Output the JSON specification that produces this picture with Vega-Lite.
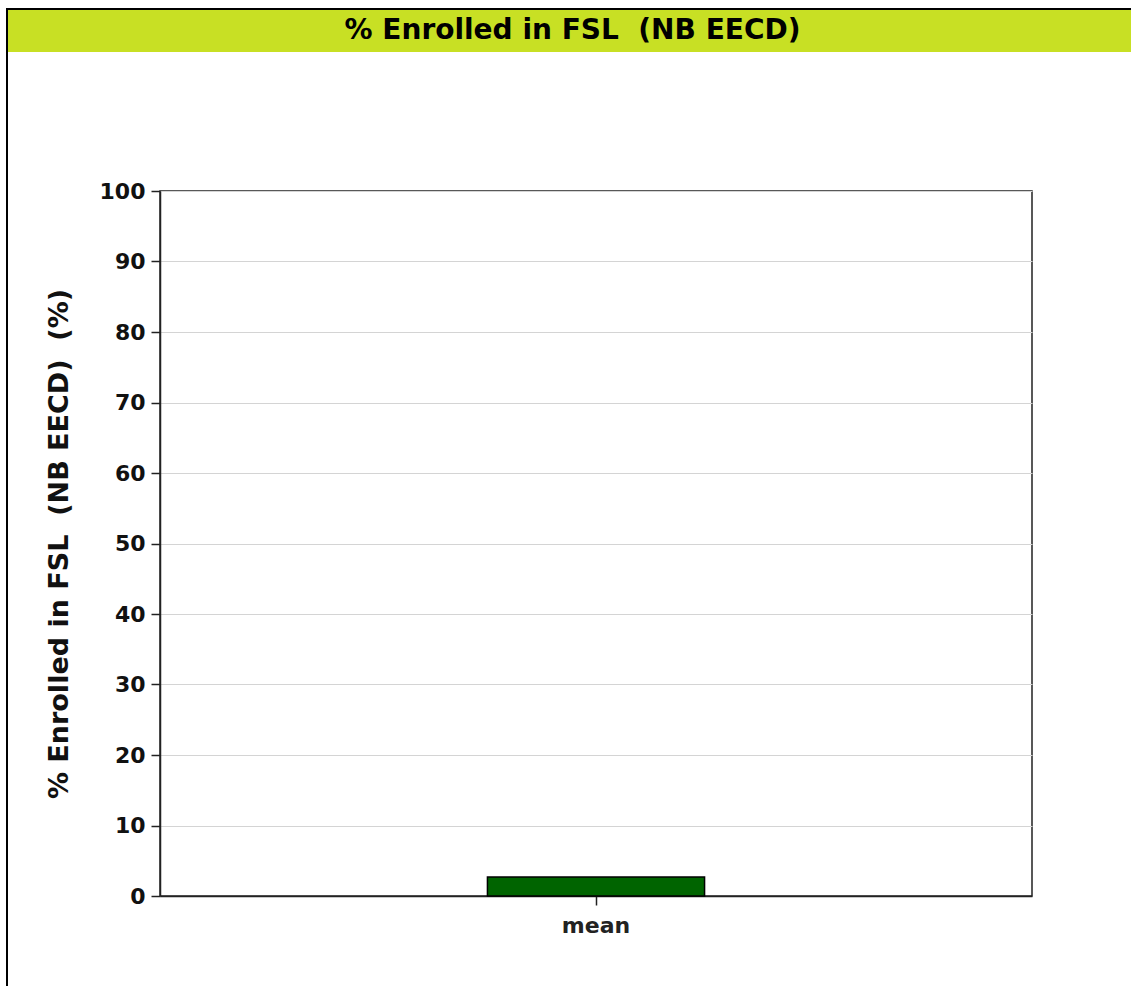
{
  "$schema": "https://vega.github.io/schema/vega-lite/v6.json",
  "padding": {"left": 6, "top": 8, "right": 0, "bottom": 0},
  "background": "white",
  "config": {
    "view": {"stroke": null},
    "font": "DejaVu Sans"
  },
  "spacing": 0,
  "bounds": "flush",
  "vconcat": [
    {
      "width": 1125,
      "height": 2,
      "data": {"values": [{"part": "frame top"}]},
      "view": {"fill": "#000000", "stroke": null},
      "mark": {"type": "rect", "fill": "#000000"},
      "encoding": {}
    },
    {
      "spacing": 0,
      "bounds": "flush",
      "hconcat": [
        {
          "width": 2,
          "height": 976,
          "data": {"values": [{"part": "frame left"}]},
          "view": {"fill": "#000000", "stroke": null},
          "mark": {"type": "rect", "fill": "#000000"},
          "encoding": {}
        },
        {
          "spacing": 139,
          "bounds": "flush",
          "vconcat": [
            {
              "width": 1123,
              "height": 42,
              "data": {"values": [{"title": "% Enrolled in FSL \u00a0(NB EECD)"}]},
              "view": {"fill": "#c8e024", "stroke": null},
              "mark": {"type": "text", "font": "DejaVu Sans", "fontWeight": "bold", "fontSize": 28, "color": "#000000", "align": "center", "baseline": "middle", "dx": 3, "dy": 0},
              "encoding": {"text": {"field": "title", "type": "nominal"}}
            },
            {
              "spacing": 0,
              "bounds": "flush",
              "hconcat": [
                {
                  "width": 152,
                  "height": 705,
                  "data": {"values": [{"part": "spacer"}]},
                  "view": {"stroke": null},
                  "mark": {"type": "rect", "opacity": 0},
                  "encoding": {}
                },
                {
                  "width": 872,
                  "height": 705,
                  "view": {"stroke": "#222222", "strokeWidth": 1.5},
                  "data": {"values": [{"stat": "mean", "value": 2.7}]},
                  "mark": {"type": "bar", "fill": "#006400", "stroke": "#000000", "strokeWidth": 1.5, "width": {"band": 0.249}},
                  "encoding": {
                    "x": {
                      "field": "stat",
                      "type": "nominal",
                      "scale": {"paddingInner": 0, "paddingOuter": 0},
                      "axis": {
                        "title": null,
                        "labelAngle": 0,
                        "labelFont": "DejaVu Sans",
                        "labelFontWeight": "bold",
                        "labelFontSize": 22,
                        "labelColor": "#222222",
                        "labelPadding": 10,
                        "tickSize": 9,
                        "tickColor": "#222222",
                        "tickWidth": 1.5,
                        "domainColor": "#222222",
                        "domainWidth": 1.5,
                        "grid": false
                      }
                    },
                    "y": {
                      "field": "value",
                      "type": "quantitative",
                      "scale": {"domain": [0, 100], "nice": false},
                      "axis": {
                        "title": "% Enrolled in FSL \u00a0(NB EECD) \u00a0(%)",
                        "titleFont": "DejaVu Sans",
                        "titleFontWeight": "bold",
                        "titleFontSize": 27,
                        "titleColor": "#111111",
                        "titlePadding": 26,
                        "values": [0, 10, 20, 30, 40, 50, 60, 70, 80, 90, 100],
                        "labelFont": "DejaVu Sans",
                        "labelFontWeight": "bold",
                        "labelFontSize": 22,
                        "labelColor": "#111111",
                        "labelPadding": 6,
                        "tickSize": 9,
                        "tickColor": "#222222",
                        "tickWidth": 1.5,
                        "domainColor": "#222222",
                        "domainWidth": 1.5,
                        "grid": true,
                        "gridColor": "#d4d4d4",
                        "gridWidth": 1
                      }
                    }
                  }
                }
              ]
            }
          ]
        }
      ]
    }
  ]
}
